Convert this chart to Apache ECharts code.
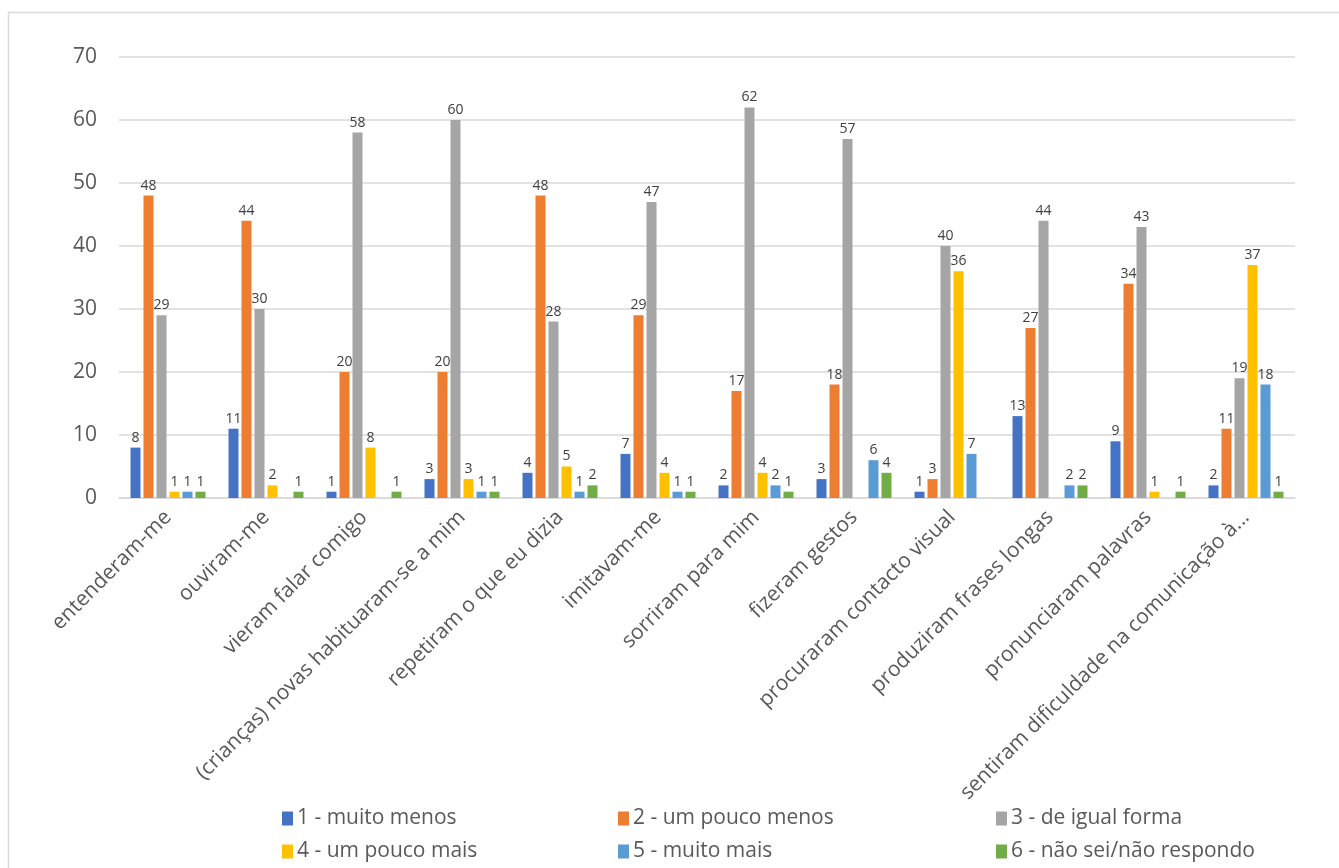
<!DOCTYPE html>
<html>
<head>
<meta charset="utf-8">
<script src="https://cdn.jsdelivr.net/npm/echarts@6.0.0/dist/echarts.min.js"></script>
<style>
  html, body { margin: 0; padding: 0; background: #fff; }
  #chart { width: 1339px; height: 868px; }
</style>
</head>
<body>
<div id="chart"></div>
<script>
const categories = [
  "entenderam-me",
  "ouviram-me",
  "vieram falar comigo",
  "(crianças) novas habituaram-se a mim",
  "repetiram o que eu dizia",
  "imitavam-me",
  "sorriram para mim",
  "fizeram gestos",
  "procuraram contacto visual",
  "produziram frases longas",
  "pronunciaram palavras",
  "sentiram dificuldade na comunicação à...",
];

const seriesNames = [
  "1 - muito menos",
  "2 - um pouco menos",
  "3 - de igual forma",
  "4 - um pouco mais",
  "5 - muito mais",
  "6 - não sei/não respondo",
];

// null = célula vazia (sem barra nem rótulo)
const muitoMenos = [8, 11, 1, 3, 4, 7, 2, 3, 1, 13, 9, 2];
const umPoucoMenos = [48, 44, 20, 20, 48, 29, 17, 18, 3, 27, 34, 11];
const deIgualForma = [29, 30, 58, 60, 28, 47, 62, 57, 40, 44, 43, 19];
const umPoucoMais = [1, 2, 8, 3, 5, 4, 4, null, 36, null, 1, 37];
const muitoMais = [1, null, null, 1, 1, 1, 2, 6, 7, 2, null, 18];
const naoSei = [1, 1, 1, 1, 2, 1, 1, 4, null, 2, 1, 1];

const yTicks = { min: 0, max: 70, interval: 10 };

const colors = ["#4472C4", "#ED7D31", "#A5A5A5", "#FFC000", "#5B9BD5", "#70AD47"];
const seriesData = [muitoMenos, umPoucoMenos, deIgualForma, umPoucoMais, muitoMais, naoSei];

const FONT = "'Open Sans', 'Noto Sans', sans-serif";
const TEXT_COLOR = "#595959";

// legenda em duas linhas de três colunas, como no Excel
const legendLeft = [277, 613, 991];
const legendTop = [803, 836];

function buildLegends() {
  return seriesNames.map((name, i) => ({
    data: [name],
    left: legendLeft[i % 3],
    top: legendTop[Math.floor(i / 3)],
    itemWidth: 11,
    itemHeight: 14,
    itemGap: 4,
    icon: "rect",
    selectedMode: false,
    textStyle: { color: TEXT_COLOR, fontSize: 21, fontFamily: FONT, padding: [0, 0, 0, -1] },
  }));
}

function buildSeries() {
  return seriesNames.map((name, i) => ({
    name,
    type: "bar",
    data: seriesData[i],
    barWidth: 10,
    barGap: "30%",
    itemStyle: { color: colors[i] },
    label: {
      show: true,
      position: "top",
      distance: 3,
      color: "#404040",
      fontSize: 14,
      fontFamily: FONT,
    },
  }));
}

const chart = echarts.init(document.getElementById("chart"), null, { renderer: "canvas" });
chart.setOption({
  animation: false,
  color: colors,
  graphic: [
    {
      type: "rect",
      shape: { x: 8.5, y: 12.5, width: 1340, height: 870 },
      style: { fill: "none", stroke: "#d9d9d9", lineWidth: 1.5 },
      silent: true,
    },
  ],
  grid: { left: 119, right: 44, top: 57, bottom: 370, containLabel: false },
  legend: buildLegends(),
  xAxis: {
    type: "category",
    data: categories,
    axisTick: { show: false },
    axisLine: { lineStyle: { color: "#d9d9d9", width: 1.5 } },
    axisLabel: {
      interval: 0,
      rotate: 45,
      margin: 16,
      color: TEXT_COLOR,
      fontSize: 21,
      fontFamily: FONT,
    },
  },
  yAxis: {
    type: "value",
    min: yTicks.min,
    max: yTicks.max,
    interval: yTicks.interval,
    axisLine: { show: false },
    axisTick: { show: false },
    splitLine: { lineStyle: { color: "#d9d9d9", width: 1.5 } },
    axisLabel: { color: TEXT_COLOR, fontSize: 21, fontFamily: FONT, margin: 22 },
  },
  series: buildSeries(),
});
</script>
</body>
</html>
